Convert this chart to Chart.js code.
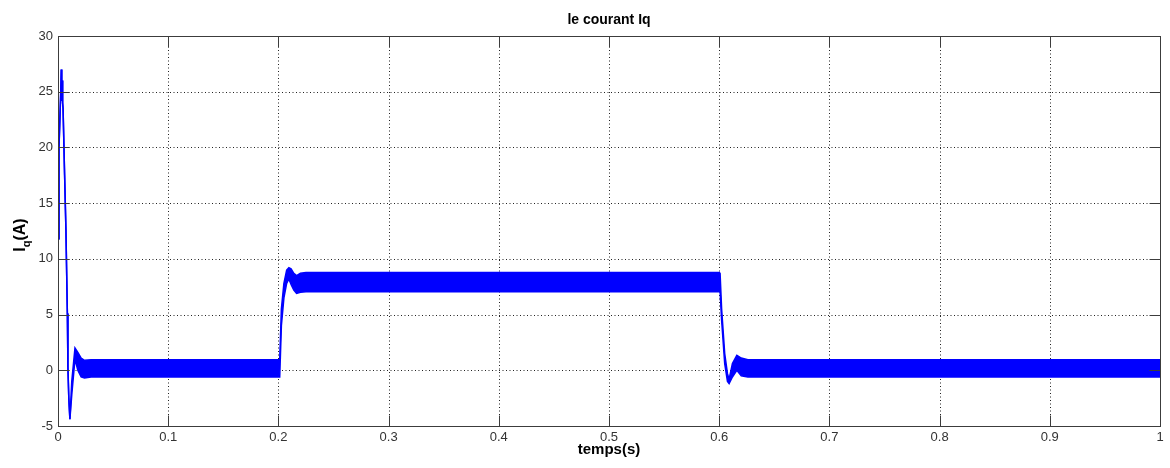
<!DOCTYPE html>
<html>
<head>
<meta charset="utf-8">
<title>le courant Iq</title>
<script src="https://cdn.jsdelivr.net/npm/chart.js@4/dist/chart.umd.min.js"></script>
<style>
  html, body { margin: 0; padding: 0; background: #fff; }
</style>
</head>
<body>
<canvas id="myChart" width="1170" height="468"></canvas>
<script>
// temps (s) et enveloppe haute / basse de l'ondulation du courant Iq (A)
const temps = [
  0, 0.0009, 0.0025, 0.0030, 0.0034, 0.0038, 0.0042, 0.0046, 0.0060, 0.0072, 0.0079, 0.0085, 0.0090, 0.0098, 0.0108,
  0.0125, 0.0154, 0.018, 0.021, 0.024, 0.03, 0.1, 0.2005,
  0.2012, 0.2027, 0.2050, 0.2075, 0.2095, 0.2115, 0.2140, 0.2165, 0.2200, 0.2250, 0.4, 0.6000,
  0.6008, 0.6022, 0.6050, 0.6075, 0.6090, 0.6120, 0.6160, 0.6200, 0.6260, 0.8, 1.0
];
const iqMax = [
  11.8, 20.0, 25.0, 27.0, 24.2, 26.0, 24.0, 23.5, 17.5, 12.6, 8.5, 5.1, 0.3, -2.5, -4.4,
  -1.0, 2.0, 1.6, 1.1, 0.9, 0.95, 0.95, 0.95,
  0.95, 5.5, 7.8, 9.0, 9.2, 9.1, 8.7, 8.5, 8.7, 8.78, 8.78, 8.78,
  8.7, 5.5, 1.5, -0.3, -0.8, 0.6, 1.35, 1.1, 0.95, 0.95, 0.95
];
const iqMin = [
  11.8, 20.0, 25.0, 27.0, 24.2, 26.0, 24.0, 23.5, 17.5, 12.6, 8.5, 5.1, 0.3, -2.5, -4.4,
  -2.2, 1.0, 0.0, -0.6, -0.7, -0.6, -0.6, -0.6,
  -0.6, 4.0, 6.5, 7.8, 8.2, 7.7, 7.2, 6.9, 7.0, 7.05, 7.05, 7.05,
  7.1, 4.5, 0.6, -1.0, -1.2, -0.6, 0.0, -0.5, -0.6, -0.6, -0.6
];

const xTicks = [0, 0.1, 0.2, 0.3, 0.4, 0.5, 0.6, 0.7, 0.8, 0.9, 1];
const yTicks = [-5, 0, 5, 10, 15, 20, 25, 30];

const BLUE = '#0000ff';
const AXIS = '#3c3c3c';
const TICK_LEN = 11;

Chart.defaults.font.family = '"Liberation Sans", Arial, sans-serif';
Chart.defaults.font.size = 13;
Chart.defaults.color = '#333';

const toPoints = ys => temps.map((t, i) => ({ x: t, y: ys[i] }));

// grille pointillee sous les courbes, cadre + graduations internes par dessus
const matlabAxes = {
  id: 'matlabAxes',
  beforeDatasetsDraw(chart) {
    const { ctx, chartArea: a, scales: { x, y } } = chart;
    ctx.save();
    ctx.strokeStyle = '#222';
    ctx.lineWidth = 1;
    ctx.setLineDash([1, 2.5]);
    xTicks.slice(1, -1).forEach(v => {
      const px = Math.round(x.getPixelForValue(v)) + 0.5;
      ctx.beginPath(); ctx.moveTo(px, a.top); ctx.lineTo(px, a.bottom); ctx.stroke();
    });
    yTicks.slice(1, -1).forEach(v => {
      const py = Math.round(y.getPixelForValue(v)) + 0.5;
      ctx.beginPath(); ctx.moveTo(a.left, py); ctx.lineTo(a.right, py); ctx.stroke();
    });
    ctx.restore();
  },
  afterDatasetsDraw(chart) {
    const { ctx, chartArea: a, scales: { x, y } } = chart;
    const l = Math.round(a.left) + 0.5, r = Math.round(a.right) + 0.5;
    const t = Math.round(a.top) + 0.5, b = Math.round(a.bottom) + 0.5;
    ctx.save();
    ctx.strokeStyle = AXIS;
    ctx.lineWidth = 1;
    ctx.strokeRect(l, t, r - l, b - t);
    ctx.beginPath();
    xTicks.forEach(v => {
      const px = Math.round(x.getPixelForValue(v)) + 0.5;
      ctx.moveTo(px, b); ctx.lineTo(px, b - TICK_LEN);
      ctx.moveTo(px, t); ctx.lineTo(px, t + TICK_LEN);
    });
    yTicks.forEach(v => {
      const py = Math.round(y.getPixelForValue(v)) + 0.5;
      ctx.moveTo(l, py); ctx.lineTo(l + TICK_LEN, py);
      ctx.moveTo(r, py); ctx.lineTo(r - TICK_LEN, py);
    });
    ctx.stroke();
    ctx.restore();
  },
  afterDraw(chart) {
    const { ctx, chartArea: a } = chart;
    const cx = (a.left + a.right) / 2;
    ctx.save();
    ctx.fillStyle = '#000';
    ctx.textAlign = 'center';
    ctx.textBaseline = 'alphabetic';
    ctx.font = 'bold 14px "Liberation Sans", Arial, sans-serif';
    ctx.fillText('le courant Iq', cx, 24);
    ctx.font = 'bold 15px "Liberation Sans", Arial, sans-serif';
    ctx.fillText('temps(s)', cx, 454);

    // I_q(A) vertical, indice q
    const main = 'bold 16px "Liberation Sans", Arial, sans-serif';
    const sub = 'bold 11px "Liberation Sans", Arial, sans-serif';
    ctx.font = main;
    const wI = ctx.measureText('I').width, wA = ctx.measureText('(A)').width;
    ctx.font = sub;
    const wq = ctx.measureText('q').width;
    const total = wI + wq + wA;
    ctx.translate(25, 235);
    ctx.rotate(-Math.PI / 2);
    ctx.textAlign = 'left';
    let cur = -total / 2;
    ctx.font = main; ctx.fillText('I', cur, 0); cur += wI;
    ctx.font = sub; ctx.fillText('q', cur, 5); cur += wq;
    ctx.font = main; ctx.fillText('(A)', cur, 0);
    ctx.restore();
  }
};

const ctx = document.getElementById('myChart').getContext('2d');
const myChart = new Chart(ctx, {
  type: 'line',
  data: {
    datasets: [
      {
        label: 'Iq max',
        data: toPoints(iqMax),
        borderColor: BLUE,
        borderWidth: 1.5,
        pointRadius: 0,
        fill: false
      },
      {
        label: 'Iq min',
        data: toPoints(iqMin),
        borderColor: BLUE,
        borderWidth: 1.5,
        pointRadius: 0,
        backgroundColor: BLUE,
        fill: '-1'
      }
    ]
  },
  options: {
    responsive: false,
    animation: false,
    devicePixelRatio: 1,
    layout: { padding: { top: 36, right: 10, left: 0, bottom: 0 } },
    plugins: {
      legend: { display: false },
      tooltip: { enabled: false },
      title: { display: false }
    },
    scales: {
      x: {
        type: 'linear',
        min: 0,
        max: 1,
        afterBuildTicks: s => { s.ticks = xTicks.map(v => ({ value: v })); },
        afterFit: s => { s.height = 42; },
        ticks: {
          padding: 4,
          maxRotation: 0,
          callback: v => String(Math.round(v * 10) / 10)
        },
        grid: { display: false, drawTicks: false },
        border: { display: false }
      },
      y: {
        min: -5,
        max: 30,
        afterBuildTicks: s => { s.ticks = yTicks.map(v => ({ value: v })); },
        afterFit: s => { s.width = 58; },
        ticks: { padding: 5 },
        grid: { display: false, drawTicks: false },
        border: { display: false }
      }
    }
  },
  plugins: [matlabAxes]
});
</script>
</body>
</html>
